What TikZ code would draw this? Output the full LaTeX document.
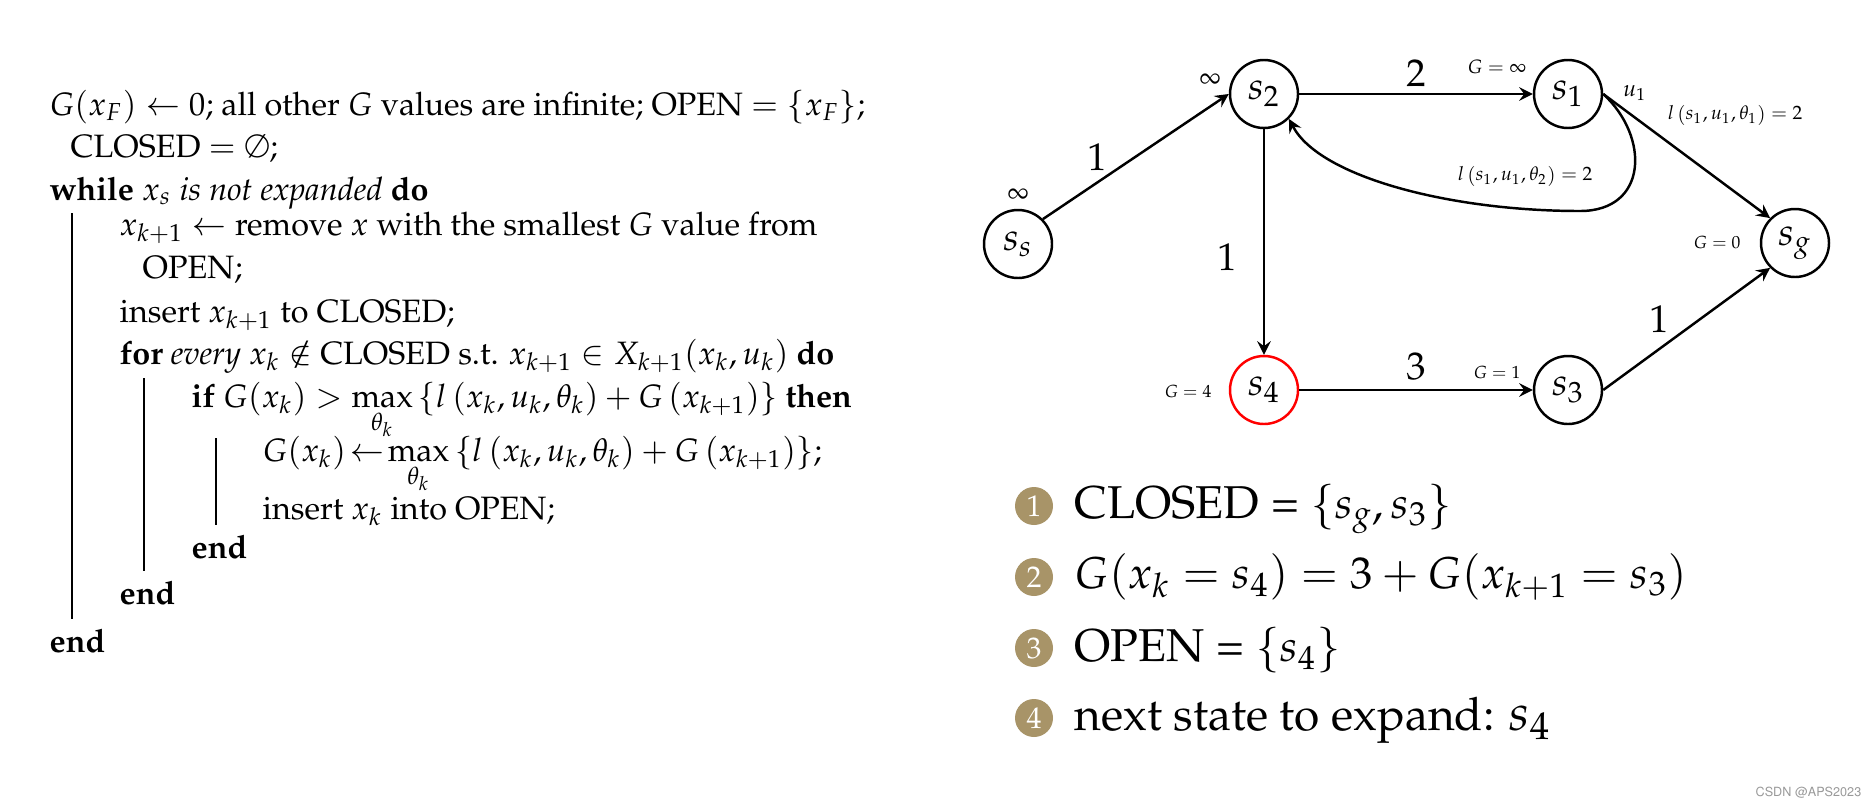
\documentclass[tikz,border=0pt]{standalone}
\usepackage[T1]{fontenc}
\usepackage{mathpazo}
\usepackage{amssymb}
\definecolor{badge}{RGB}{168,148,104}
\newcommand{\setmath}{\fontsize{12.5}{14}\selectfont}
\tikzset{
	algline/.style={anchor=base west,inner sep=0pt,font=\fontsize{9.2}{11}\selectfont},
	stateline/.style={anchor=base west,inner sep=0pt,font=\fontsize{13.1}{16}\selectfont},
	state/.style={circle,draw,line width=0.7pt,minimum size=0.68cm,inner sep=0pt,font=\fontsize{11}{13}\selectfont},
	cost/.style={inner sep=0pt,font=\fontsize{11}{13}\selectfont},
	note/.style={inner sep=0pt,font=\fontsize{5.5}{6}\selectfont},
	badgenode/.style={circle,fill=badge,text=white,minimum size=0.38cm,inner sep=0pt,font=\fontsize{8.5}{9}\selectfont},
	arc/.style={-stealth,line width=0.7pt}
}
\begin{document}
\begin{tikzpicture}
	\useasboundingbox (0,0) rectangle (18.73,8.07);
	% algorithm
	\path (0.49,6.92) node[algline] (a1) {$G(x_F)\leftarrow 0$; all other $G$ values are infinite; OPEN $=\{x_F\}$;};
	\path (0.70,6.50) node[algline] (a2) {CLOSED $=\emptyset$;};
	\path (0.49,6.07) node[algline] (a3) {\textbf{while} $x_s$ \textit{is not expanded} \textbf{do}};
	\path (1.19,5.72) node[algline] (a4) {$x_{k+1}\leftarrow$ remove $x$ with the smallest $G$ value from};
	\path (1.42,5.29) node[algline] (a5) {OPEN;};
	\path (1.19,4.85) node[algline] (a6) {insert $x_{k+1}$ to CLOSED;};
	\path (1.19,4.43) node[algline] (a7) {\textbf{for} \textit{every} $x_k\notin$ CLOSED s.t. $x_{k+1}\in X_{k+1}(x_k,u_k)$ \textbf{do}};
	\path (1.91,4.00) node[algline] (a8) {\textbf{if} $G(x_k)>\max\limits_{\theta_k}\left\{l\left(x_k,u_k,\theta_k\right)+G\left(x_{k+1}\right)\right\}$ \textbf{then}};
	\path (2.62,3.46) node[algline] (a9) {$G(x_k)\!\leftarrow\!\max\limits_{\theta_k}\left\{l\left(x_k,u_k,\theta_k\right)+G\left(x_{k+1}\right)\right\}$;};
	\path (2.62,2.88) node[algline] (a10) {insert $x_k$ into OPEN;};
	\path (1.91,2.49) node[algline] (a11) {\textbf{end}};
	\path (1.19,2.03) node[algline] (a12) {\textbf{end}};
	\path (0.49,1.55) node[algline] (a13) {\textbf{end}};
	\draw[line width=0.5pt] (0.72,5.94) -- (0.72,1.88);
	\draw[line width=0.5pt] (1.44,4.29) -- (1.44,2.36);
	\draw[line width=0.5pt] (2.16,3.69) -- (2.16,2.82);
	% graph
	\path (10.18,5.63) node[state] (ss) {$s_s$};
	\path (12.64,7.13) node[state] (s2) {$s_2$};
	\path (15.68,7.13) node[state] (s1) {$s_1$};
	\path (17.95,5.64) node[state] (sg) {$s_g$};
	\path (12.64,4.17) node[state,draw=red] (s4) {$s_4$};
	\path (15.68,4.17) node[state] (s3) {$s_3$};
	\coordinate (loop) at (15.80,5.96);
	\draw[arc] (ss.45) -- (s2.west);
	\draw[arc] (s2.east) -- (s1.west);
	\draw[arc] (s2.south) -- (s4.north);
	\draw[arc] (s4.east) -- (s3.west);
	\draw[arc] (s3.east) -- (sg.225);
	\draw[arc] (s1.east) -- (sg.135);
	\draw[arc] (s1.east) .. controls (16.50,6.70) and (16.48,5.96) .. (loop) .. controls (14.50,5.96) and (13.20,6.30) .. (s2.-45);
	\path (10.97,6.50) node[cost] (c1) {$1$};
	\path (14.16,7.34) node[cost] (c2) {$2$};
	\path (12.27,5.50) node[cost] (c3) {$1$};
	\path (14.16,4.40) node[cost] (c4) {$3$};
	\path (16.59,4.88) node[cost] (c5) {$1$};
	\path (10.18,6.12) node[note,font=\fontsize{7}{8}\selectfont] (gss) {$\infty$};
	\path (12.10,7.27) node[note,font=\fontsize{7}{8}\selectfont] (gs2) {$\infty$};
	\path (14.97,7.40) node[note] (gs1) {$G=\infty$};
	\path (17.17,5.65) node[note,font=\fontsize{5}{6}\selectfont] (gsg) {$G=0$};
	\path (11.88,4.16) node[note,font=\fontsize{5}{6}\selectfont] (gs4) {$G=4$};
	\path (14.97,4.35) node[note,font=\fontsize{5}{6}\selectfont] (gs3) {$G=1$};
	\path (16.35,7.14) node[note,font=\fontsize{6.5}{8}\selectfont] (u1) {$u_1$};
	\path (17.35,6.92) node[note] (l1) {$l\left(s_1,u_1,\theta_1\right)=2$};
	\path (15.25,6.31) node[note] (l2) {$l\left(s_1,u_1,\theta_2\right)=2$};
	% steps
	\path (10.34,3.01) node[badgenode] (b1) {1};
	\path (10.34,2.30) node[badgenode] (b2) {2};
	\path (10.34,1.59) node[badgenode] (b3) {3};
	\path (10.34,0.89) node[badgenode] (b4) {4};
	\path (10.74,2.89) node[stateline] (t1) {CLOSED = {\setmath$\{s_g,s_3\}$}};
	\path (10.74,2.19) node[stateline,font=\fontsize{12.7}{16}\selectfont] (t2) {$G(x_k=s_4)=3+G(x_{k+1}=s_3)$};
	\path (10.74,1.46) node[stateline] (t3) {OPEN = {\setmath$\{s_4\}$}};
	\path (10.74,0.77) node[stateline] (t4) {next state to expand: {\fontsize{14.5}{16}\selectfont$s_4$}};
	\path (18.62,0.15) node[anchor=east,inner sep=0pt,text=gray!80,font=\fontfamily{phv}\fontsize{3.6}{5}\selectfont] (mark) {CSDN @APS2023};
\end{tikzpicture}
\end{document}
